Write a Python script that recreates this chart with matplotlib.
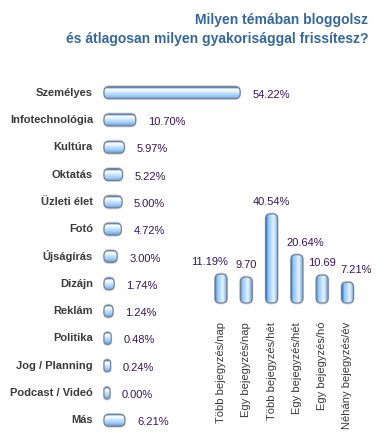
import numpy as np
import matplotlib
matplotlib.use("Agg")
import matplotlib.pyplot as plt
from matplotlib.patches import FancyBboxPatch
from matplotlib.colors import LinearSegmentedColormap

# data
topics = ["Személyes", "Infotechnológia", "Kultúra", "Oktatás", "Üzleti élet",
          "Fotó", "Újságírás", "Dizájn", "Reklám", "Politika", "Jog / Planning",
          "Podcast / Videó", "Más"]
topic_vals = [54.22, 10.70, 5.97, 5.22, 5.00, 4.72, 3.00, 1.74, 1.24, 0.48, 0.24, 0.00, 6.21]
topic_labels = ["54.22%", "10.70%", "5.97%", "5.22%", "5.00%", "4.72%", "3.00%",
                "1.74%", "1.24%", "0.48%", "0.24%", "0.00%", "6.21%"]

freqs = ["Több bejegyzés/nap", "Egy bejegyzés/nap", "Több bejegyzés/hét",
         "Egy bejegyzés/hét", "Egy bejegyzés/hó", "Néhány bejegyzés/év"]
freq_vals = [11.19, 9.70, 40.54, 20.64, 10.69, 7.21]
freq_labels = ["11.19%", "9.70", "40.54%", "20.64%", "10.69", "7.21%"]

W, H, DPI = 385, 445, 100
fig = plt.figure(figsize=(W / DPI, H / DPI), dpi=DPI)
fig.patch.set_facecolor("white")

LBL = dict(family="Liberation Sans", color="#3a3a3a")
VAL = dict(family="Liberation Sans", color="#35145f", fontsize=8)

hgrad = LinearSegmentedColormap.from_list(
    "hg", ["#6f93c4", "#8cbdf0", "#a9d3fb", "#c3e2fd", "#e8f5ff", "#ffffff", "#2c68bd"])
vgrad = LinearSegmentedColormap.from_list(
    "vg", ["#2c68bd", "#8fc3f5", "#a9d3fb", "#c8e6fe", "#e6f4ff", "#a8cdf2", "#7d9cc6"])


def pill(ax, x0, y0, w, h, pxx, pxy, cmap, horiz):
    # pxx/pxy: data units per pixel along x/y
    r = min(5 * pxx, w / 2, (h / 2) * pxx / pxy)
    asp = pxy / pxx
    sh = FancyBboxPatch((x0 - pxx, y0 - pxy * 1.5), w + 2 * pxx, h + 3 * pxy,
                        boxstyle="round,pad=0,rounding_size=%f" % (r + pxx),
                        mutation_aspect=asp, fc="#d9d9d9", ec="none", zorder=1)
    ax.add_patch(sh)
    p = FancyBboxPatch((x0, y0), w, h, boxstyle="round,pad=0,rounding_size=%f" % r,
                       mutation_aspect=asp, fc="none", ec="#6d7f95", lw=0.8, zorder=3)
    ax.add_patch(p)
    g = np.linspace(0, 1, 64)
    img = g.reshape(-1, 1) if horiz else g.reshape(1, -1)
    im = ax.imshow(img, cmap=cmap, extent=(x0, x0 + w, y0, y0 + h) if not horiz else
                   (x0, x0 + w, y0 + h, y0), origin="lower", aspect="auto", zorder=2,
                   interpolation="bilinear")
    im.set_clip_path(p)


# horizontal chart
px = 2.4      # pixels per percent
row = 27.33   # pixels per row
ax1 = fig.add_axes([(107 - 5 * px) / W, 1 - 434 / H, 65 * px / W, 355 / H])
ax1.axis("off")
pxx, pxy = 1 / px, 1 / row
bh = 12 * pxy
for i, (name, v, lab) in enumerate(zip(topics, topic_vals, topic_labels)):
    pill(ax1, -3 * pxx, i - bh / 2, v + 6 * pxx, bh, pxx, pxy, hgrad, True)
    ax1.annotate(name, (0, i), xytext=(-14, 0), textcoords="offset pixels",
                 ha="right", va="center", fontsize=8, fontweight="bold", **LBL)
    ax1.annotate(lab, (v, i), xytext=(15, -2), textcoords="offset pixels",
                 ha="left", va="center", **VAL)
ax1.set_xlim(-5, 60)
ax1.set_ylim(12.5, -0.5)

# vertical chart
col = 25.3
py = 2.05
lab_dx = [-11, 0, 0, 8, 0, 9]   # label nudges in pixels, as in the original
ax2 = fig.add_axes([(221 - 0.6 * col) / W, 1 - (300 + 5 * py) / H, 6.2 * col / W, 55 * py / H])
ax2.axis("off")
pxx, pxy = 1 / col, 1 / py
bw = 12 * pxx
for k, (name, v, lab) in enumerate(zip(freqs, freq_vals, freq_labels)):
    pill(ax2, k - bw / 2, -3 * pxy, bw, v + 6 * pxy, pxx, pxy, vgrad, False)
    ax2.annotate(lab, (k, v), xytext=(lab_dx[k], 10), textcoords="offset pixels",
                 ha="center", va="bottom", **VAL)
    ax2.annotate(name, (k, 0), xytext=(0, -22), textcoords="offset pixels",
                 ha="center", va="top", rotation=90, fontsize=8, **LBL)
ax2.set_xlim(-0.6, 5.6)
ax2.set_ylim(-5, 50)

# title
tkw = dict(family="Liberation Sans", fontweight="bold", color="#35669c",
           fontsize=10, ha="right", va="center")
fig.text(368 / W, 1 - 20 / H, "Milyen témában bloggolsz", **tkw)
fig.text(368 / W, 1 - 39 / H, "és átlagosan milyen gyakorisággal frissítesz?", **tkw)

fig.savefig("out.png", dpi=DPI)
